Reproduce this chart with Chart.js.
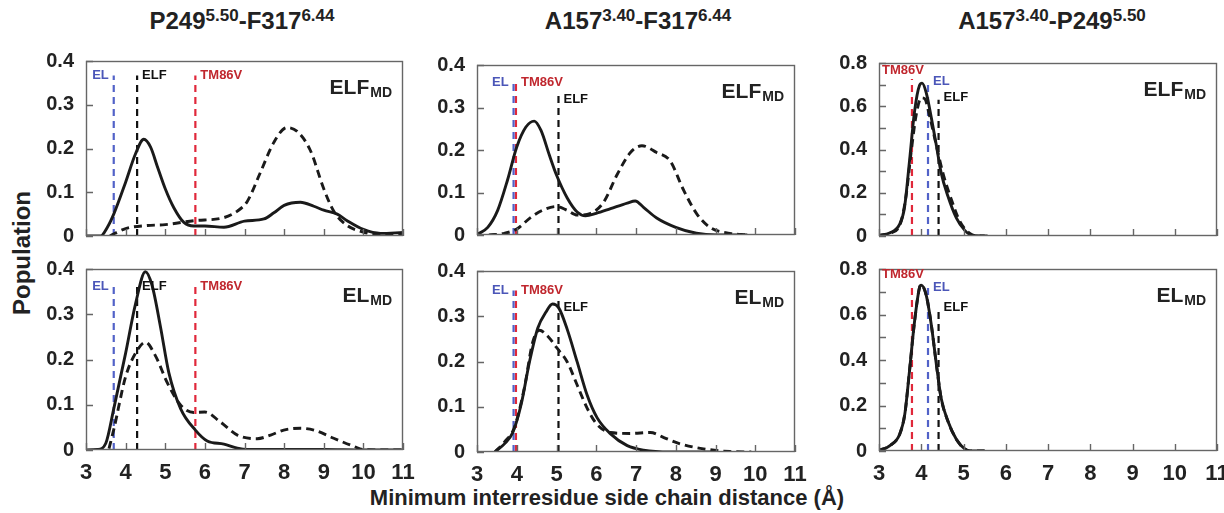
<!DOCTYPE html>
<html>
<head>
<meta charset="utf-8">
<script src="https://cdn.jsdelivr.net/npm/chart.js"></script>
<style>
  body { margin: 0; background: #fff; width: 1224px; height: 513px; position: relative; overflow: hidden;
         font-family: "Liberation Sans", Arial, sans-serif; font-weight: bold; color: #222; }
  canvas { position: absolute; }
  .title { position: absolute; top: 6px; width: 400px; text-align: center; font-size: 24px; line-height: 30px; }
  .title sup { font-size: 17px; vertical-align: baseline; position: relative; top: -8px; }
  #ylab { position: absolute; left: 22px; top: 253px; font-size: 24px; white-space: nowrap;
          transform: translate(-50%, -50%) rotate(-90deg); }
  #xlab { position: absolute; left: 307px; top: 485px; width: 600px; text-align: center; font-size: 22px; line-height: 26px; }
</style>
</head>
<body>
<div class="title" style="left:42px">P249<sup>5.50</sup>-F317<sup>6.44</sup></div>
<div class="title" style="left:438px">A157<sup>3.40</sup>-F317<sup>6.44</sup></div>
<div class="title" style="left:852px">A157<sup>3.40</sup>-P249<sup>5.50</sup></div>
<div id="ylab">Population</div>
<div id="xlab">Minimum interresidue side chain distance (Å)</div>

<canvas id="c1"></canvas><canvas id="c2"></canvas><canvas id="c3"></canvas>
<canvas id="c4"></canvas><canvas id="c5"></canvas><canvas id="c6"></canvas>

<script>
// x axis: distance in angstrom
const xMin = 3, xMax = 11;

// reference distances (EL, ELF, TM86V structures)
const refNames = ["EL", "ELF", "TM86V"];
const refP249F317 = [3.7, 4.29, 5.76];
const refA157F317 = [3.92, 5.05, 3.98];
const refA157P249 = [4.16, 4.41, 3.78];

// P249-F317, ELF_MD
const p1SolidX = [3.0, 3.37, 3.54, 3.7, 4.0, 4.25, 4.46, 4.63, 4.8, 5.0, 5.22, 5.47, 5.72, 6.0, 6.48, 7.0, 7.49, 7.74, 8.0, 8.41, 8.75, 9.0, 9.34, 9.59, 10.0, 10.43, 11.0];
const p1SolidY = [0, 0, 0.02, 0.05, 0.123, 0.188, 0.221, 0.203, 0.159, 0.108, 0.064, 0.031, 0.023, 0.023, 0.020, 0.034, 0.039, 0.053, 0.070, 0.077, 0.068, 0.059, 0.050, 0.035, 0.015, 0.006, 0.008];
const p1DashX = [3.6, 4.0, 4.55, 5.0, 5.72, 6.48, 6.82, 7.07, 7.4, 7.74, 8.07, 8.33, 8.66, 9.0, 9.25, 9.59, 10.0, 10.43, 11.0];
const p1DashY = [0, 0.017, 0.024, 0.026, 0.035, 0.042, 0.057, 0.079, 0.145, 0.214, 0.248, 0.239, 0.196, 0.108, 0.057, 0.024, 0.009, 0.002, 0.005];

// A157-F317, ELF_MD
const p2SolidX = [3.0, 3.27, 3.52, 3.77, 4.0, 4.23, 4.44, 4.61, 4.82, 5.0, 5.27, 5.52, 5.73, 6.0, 6.36, 6.78, 6.98, 7.19, 7.52, 8.0, 8.52, 9.02, 9.8];
const p2SolidY = [0.001, 0.018, 0.058, 0.13, 0.207, 0.254, 0.268, 0.246, 0.188, 0.141, 0.087, 0.054, 0.045, 0.051, 0.062, 0.075, 0.08, 0.065, 0.04, 0.018, 0.004, 0, 0];
const p2DashX = [3.3, 3.69, 4.0, 4.36, 4.69, 5.0, 5.27, 5.52, 5.86, 6.19, 6.53, 6.86, 7.15, 7.52, 7.86, 8.19, 8.52, 8.86, 9.36, 9.8];
const p2DashY = [0, 0.004, 0.014, 0.042, 0.06, 0.067, 0.058, 0.047, 0.051, 0.078, 0.143, 0.194, 0.21, 0.194, 0.174, 0.107, 0.051, 0.018, 0.004, 0];

// A157-P249, ELF_MD
const p3SolidX = [3.0, 3.25, 3.49, 3.6, 3.72, 3.84, 3.96, 4.02, 4.12, 4.24, 4.36, 4.47, 4.63, 4.83, 5.03, 5.19, 5.5];
const p3SolidY = [0.004, 0.014, 0.055, 0.127, 0.343, 0.574, 0.697, 0.707, 0.661, 0.545, 0.416, 0.293, 0.185, 0.084, 0.026, 0.004, 0];
const p3DashX = [3.0, 3.25, 3.49, 3.64, 3.76, 3.88, 4.0, 4.08, 4.2, 4.36, 4.52, 4.71, 4.91, 5.15, 5.39, 5.6];
const p3DashY = [0, 0.012, 0.048, 0.185, 0.387, 0.56, 0.639, 0.635, 0.553, 0.416, 0.286, 0.17, 0.069, 0.012, 0, 0];

// P249-F317, EL_MD
const p4SolidX = [3.0, 3.29, 3.5, 3.7, 4.0, 4.25, 4.5, 4.67, 4.88, 5.09, 5.39, 5.76, 6.06, 6.48, 6.82, 7.07, 8.0, 9.0, 10.0, 11.0];
const p4SolidY = [0, 0.001, 0.015, 0.091, 0.214, 0.323, 0.394, 0.363, 0.272, 0.171, 0.091, 0.044, 0.020, 0.013, 0.004, 0.001, 0.001, 0.001, 0, 0];
const p4DashX = [3.58, 3.7, 4.0, 4.25, 4.5, 4.76, 5.05, 5.39, 5.72, 6.0, 6.39, 6.82, 7.32, 7.66, 7.99, 8.41, 8.75, 9.25, 9.76, 10.0, 11.0];
const p4DashY = [0.003, 0.045, 0.162, 0.214, 0.238, 0.207, 0.149, 0.099, 0.083, 0.084, 0.062, 0.033, 0.025, 0.033, 0.044, 0.048, 0.044, 0.026, 0.008, 0.001, 0];

// A157-F317, EL_MD
const p5SolidX = [3.45, 3.69, 3.9, 4.11, 4.32, 4.53, 4.74, 4.9, 5.06, 5.27, 5.52, 5.77, 6.02, 6.36, 6.78, 7.19, 7.86, 9.0];
const p5SolidY = [0, 0.018, 0.043, 0.105, 0.199, 0.274, 0.31, 0.327, 0.318, 0.271, 0.199, 0.126, 0.076, 0.04, 0.014, 0.004, 0, 0];
const p5DashX = [3.45, 3.69, 3.94, 4.19, 4.4, 4.57, 4.78, 5.0, 5.27, 5.52, 5.77, 6.02, 6.36, 6.86, 7.36, 7.7, 8.11, 8.7, 9.36, 9.9];
const p5DashY = [0, 0.022, 0.054, 0.141, 0.242, 0.269, 0.256, 0.231, 0.199, 0.148, 0.097, 0.061, 0.043, 0.041, 0.043, 0.032, 0.018, 0.007, 0.001, 0];

// A157-P249, EL_MD (dashed curve lies under the solid one)
const p6SolidX = [3.0, 3.25, 3.49, 3.61, 3.72, 3.84, 3.96, 4.0, 4.12, 4.24, 4.36, 4.47, 4.63, 4.83, 5.03, 5.15, 5.5];
const p6SolidY = [0.002, 0.023, 0.074, 0.161, 0.349, 0.567, 0.719, 0.729, 0.683, 0.552, 0.378, 0.233, 0.132, 0.052, 0.009, 0, 0];
const p6DashX = p6SolidX;
const p6DashY = p6SolidY;

const refLine = { EL: "#5262c8", ELF: "#111", TM86V: "#e0283a" };
const refText = { EL: "#4b56b8", ELF: "#111", TM86V: "#c0272e" };
const font = '"Liberation Sans", Arial, sans-serif';

function pts(xs, ys) {
  return xs.map((x, i) => ({ x: x, y: ys[i] }));
}

// frame, inward tick marks, reference labels and the ELF_MD / EL_MD tag
const decor = {
  id: "decor",
  afterDatasetsDraw(chart, args, o) {
    const ctx = chart.ctx, a = chart.chartArea, x = chart.scales.x, y = chart.scales.y;
    ctx.save();
    ctx.strokeStyle = "#666";
    ctx.lineWidth = 1.4;
    ctx.beginPath();
    x.ticks.forEach(t => {
      const px = Math.round(x.getPixelForValue(t.value)) + 0.5;
      ctx.moveTo(px, a.bottom); ctx.lineTo(px, a.bottom - 7);
    });
    y.ticks.forEach(t => {
      const py = Math.round(y.getPixelForValue(t.value)) + 0.5;
      ctx.moveTo(a.left, py); ctx.lineTo(a.left + 7, py);
    });
    ctx.stroke();
    ctx.strokeRect(a.left + 0.5, a.top + 0.5, a.right - a.left - 1, a.bottom - a.top - 1);

    ctx.font = "bold 13px " + font;
    ctx.textBaseline = "middle";
    o.refs.forEach((r, i) => {
      const name = refNames[i];
      const px = x.getPixelForValue(r[0]);
      const py = y.getPixelForValue(o.refTop[i]) + r[1];
      ctx.fillStyle = refText[name];
      if (r[2] === "left") { ctx.textAlign = "right"; ctx.fillText(name, px - 5, py); }
      else if (r[2] === "right") { ctx.textAlign = "left"; ctx.fillText(name, px + 5, py); }
      else { ctx.textAlign = "left"; ctx.fillText(name, a.left + 3, py); }
    });

    ctx.fillStyle = "#222";
    ctx.textAlign = "left";
    ctx.textBaseline = "alphabetic";
    ctx.font = "bold 14px " + font;
    const subW = ctx.measureText("MD").width;
    ctx.font = "bold 21px " + font;
    const mainW = ctx.measureText(o.tag).width;
    const tx = a.right - 12 - subW - mainW, ty = a.top + 33;
    ctx.fillText(o.tag, tx, ty);
    ctx.font = "bold 14px " + font;
    ctx.fillText("MD", tx + mainW + 1, ty + 3);
    ctx.restore();
  }
};

const panels = [
  { id: "c1", box: [86, 403, 57, 238], yMax: 0.4, tag: "ELF", bottom: false,
    solid: pts(p1SolidX, p1SolidY), dashed: pts(p1DashX, p1DashY), refX: refP249F317,
    refTop: [0.367, 0.367, 0.367], refPlace: [[0, "left"], [0, "right"], [0, "right"]] },
  { id: "c2", box: [477, 795, 61, 237], yMax: 0.4, tag: "ELF", bottom: false,
    solid: pts(p2SolidX, p2SolidY), dashed: pts(p2DashX, p2DashY), refX: refA157F317,
    refTop: [0.362, 0.339, 0.362], refPlace: [[1, "left"], [8, "right"], [1, "right"]] },
  { id: "c3", box: [879, 1217, 59, 238], yMax: 0.8, tag: "ELF", bottom: false,
    solid: pts(p3SolidX, p3SolidY), dashed: pts(p3DashX, p3DashY), refX: refA157P249,
    refTop: [0.72, 0.63, 0.726], refPlace: [[1, "right"], [-2, "right"], [-9, "above"]] },
  { id: "c4", box: [86, 403, 265, 450], yMax: 0.4, tag: "EL", bottom: true,
    solid: pts(p4SolidX, p4SolidY), dashed: pts(p4DashX, p4DashY), refX: refP249F317,
    refTop: [0.363, 0.363, 0.363], refPlace: [[1, "left"], [1, "right"], [1, "right"]] },
  { id: "c5", box: [477, 795, 267, 452], yMax: 0.4, tag: "EL", bottom: true,
    solid: pts(p5SolidX, p5SolidY), dashed: pts(p5DashX, p5DashY), refX: refA157F317,
    refTop: [0.357, 0.337, 0.357], refPlace: [[0, "left"], [8, "right"], [0, "right"]] },
  { id: "c6", box: [879, 1217, 265, 451], yMax: 0.8, tag: "EL", bottom: true,
    solid: pts(p6SolidX, p6SolidY), dashed: pts(p6DashX, p6DashY), refX: refA157P249,
    refTop: [0.726, 0.628, 0.733], refPlace: [[2, "right"], [-1, "right"], [-10, "above"]] }
];

const yAxisW = 60, padTop = 12, padRight = 16;

panels.forEach(p => {
  const [L, R, T, B] = p.box;
  const xAxisH = p.bottom ? 40 : 14;
  const cv = document.getElementById(p.id);
  cv.width = (R - L) + yAxisW + padRight;
  cv.height = (B - T) + padTop + xAxisH;
  cv.style.left = (L - yAxisW) + "px";
  cv.style.top = (T - padTop) + "px";

  const curveStyle = { borderColor: "#1a1a1a", borderWidth: 2.9, pointRadius: 0, fill: false,
                       cubicInterpolationMode: "monotone" };
  const datasets = [
    Object.assign({ data: p.solid }, curveStyle),
    Object.assign({ data: p.dashed, borderDash: [8, 5] }, curveStyle)
  ];
  refNames.forEach((name, i) => {
    datasets.push({
      data: [{ x: p.refX[i], y: 0 }, { x: p.refX[i], y: p.refTop[i] }],
      borderColor: refLine[name], borderWidth: 2.2, borderDash: [7, 5], pointRadius: 0, fill: false
    });
  });

  new Chart(cv, {
    type: "line",
    data: { datasets: datasets },
    options: {
      responsive: false,
      animation: false,
      devicePixelRatio: 1,
      layout: { autoPadding: false, padding: { top: padTop, right: padRight, left: 0, bottom: 0 } },
      scales: {
        x: {
          type: "linear", min: xMin, max: xMax,
          grid: { display: false }, border: { display: false },
          ticks: { display: p.bottom, stepSize: 1, autoSkip: false, maxRotation: 0, padding: 2,
                   color: "#222", font: { family: font, size: 22, weight: "bold" } },
          afterFit: s => { s.height = xAxisH; }
        },
        y: {
          min: 0, max: p.yMax,
          grid: { display: false }, border: { display: false },
          ticks: { stepSize: 0.1, autoSkip: false, padding: 4, color: "#222",
                   font: { family: font, size: 20, weight: "bold" },
                   callback: v => {
                     const k = Math.round(v * 10);
                     if (p.yMax > 0.5 && k % 2) return "";
                     return k === 0 ? "0" : (k / 10).toFixed(1);
                   } },
          afterFit: s => { s.width = yAxisW; }
        }
      },
      plugins: {
        legend: { display: false },
        tooltip: { enabled: false },
        decor: { tag: p.tag, refTop: p.refTop,
                 refs: p.refX.map((v, i) => [v, p.refPlace[i][0], p.refPlace[i][1]]) }
      }
    },
    plugins: [decor]
  });
});
</script>
</body>
</html>
